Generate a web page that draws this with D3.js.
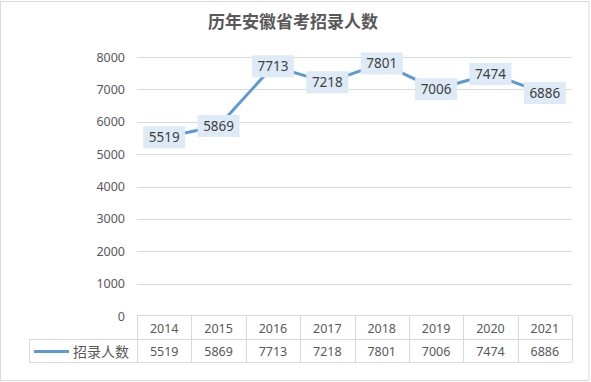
<!DOCTYPE html>
<html>
<head>
<meta charset="utf-8">
<script src="https://cdn.jsdelivr.net/npm/d3@7"></script>
<style>
  body { margin: 0; background: #fff; }
  svg { display: block; font-family: "Noto Sans", "Noto Sans CJK SC", sans-serif; }
</style>
</head>
<body>
<svg width="591" height="382"></svg>
<script>
const years = ['2014','2015','2016','2017','2018','2019','2020','2021']
const values = [5519, 5869, 7713, 7218, 7801, 7006, 7474, 6886]
const yTicks = [0, 1000, 2000, 3000, 4000, 5000, 6000, 7000, 8000]
const seriesName = '招录人数'
const title = '历年安徽省考招录人数'

const svg = d3.select('svg'),
    margin = {top: 57, right: 19, bottom: 66, left: 137},
    width = 591 - margin.left - margin.right,
    height = 382 - margin.top - margin.bottom,
    x = d3.scaleBand().domain(years).range([0, width]),
    y = d3.scaleLinear().domain([0, 8000]).range([height, 0])

// outer frame
svg.append('rect')
    .attr('x', 0.5).attr('y', 1.5)
    .attr('width', 588.5).attr('height', 379)
    .attr('fill', '#fff').attr('stroke', '#d9d9d9')

svg.append('text')
    .attr('x', 293).attr('y', 28)
    .attr('text-anchor', 'middle')
    .attr('font-family', '"Noto Sans CJK SC", sans-serif')
    .attr('font-size', 17)
    .attr('font-weight', 'bold')
    .attr('fill', '#595959')
    .text(title)

const chart = svg.append('g')
    .attr('transform', 'translate(' + margin.left + ',' + margin.top + ')')

// gridlines
chart.append('g')
    .selectAll('line')
    .data(yTicks.filter(d => d > 0))
    .enter().append('line')
    .attr('x1', 0).attr('x2', width)
    .attr('y1', d => Math.round(y(d)) + 0.5).attr('y2', d => Math.round(y(d)) + 0.5)
    .attr('stroke', '#d9d9d9')

const yAxis = chart.append('g')
    .attr('transform', 'translate(-12,0)')
    .call(d3.axisLeft(y).tickValues(yTicks).tickFormat(d3.format('d')).tickSize(0).tickPadding(0))
yAxis.select('.domain').remove()
yAxis.selectAll('text')
    .attr('font-size', 12.5)
    .attr('fill', '#595959')
    .attr('font-family', '"Noto Sans", sans-serif')

// line
const line = d3.line()
    .x((d, i) => x(years[i]) + x.bandwidth() / 2)
    .y(d => y(d))

chart.append('path')
    .datum(values)
    .attr('d', line)
    .attr('fill', 'none')
    .attr('stroke', '#5b9bd5')
    .attr('stroke-width', 3)
    .attr('stroke-linejoin', 'round')

// data labels
const labels = chart.append('g')
    .selectAll('g')
    .data(values)
    .enter().append('g')
    .attr('transform', (d, i) => 'translate(' + (x(years[i]) + x.bandwidth() / 2) + ',' + y(d) + ')')
labels.append('rect')
    .attr('x', -21).attr('y', -11)
    .attr('width', 42).attr('height', 22)
    .attr('fill', '#deebf7')
labels.append('text')
    .attr('text-anchor', 'middle')
    .attr('dy', '0.36em')
    .attr('font-size', 13.5)
    .attr('fill', '#404040')
    .text(d => d)

// data table
const rowH = 23, tableTop = height, legendLeft = 29 - margin.left
const tbl = chart.append('g').attr('stroke', '#d9d9d9').attr('fill', 'none')
tbl.append('line').attr('x1', 0).attr('x2', width).attr('y1', tableTop - 0.5).attr('y2', tableTop - 0.5)
tbl.append('line').attr('x1', legendLeft).attr('x2', width).attr('y1', tableTop + rowH + 0.5).attr('y2', tableTop + rowH + 0.5)
tbl.append('line').attr('x1', legendLeft).attr('x2', width).attr('y1', tableTop + rowH * 2 + 0.5).attr('y2', tableTop + rowH * 2 + 0.5)
tbl.append('line').attr('x1', legendLeft + 0.5).attr('x2', legendLeft + 0.5).attr('y1', tableTop + rowH).attr('y2', tableTop + rowH * 2)
tbl.selectAll('.col')
    .data(years.concat(['end']))
    .enter().append('line')
    .attr('x1', (d, i) => Math.round(i * x.step()) + 0.5)
    .attr('x2', (d, i) => Math.round(i * x.step()) + 0.5)
    .attr('y1', tableTop).attr('y2', tableTop + rowH * 2)

chart.append('g')
    .selectAll('text')
    .data(years)
    .enter().append('text')
    .attr('x', d => x(d) + x.bandwidth() / 2)
    .attr('y', tableTop + rowH / 2 + 1)
    .attr('dy', '0.36em')
    .attr('text-anchor', 'middle')
    .attr('font-size', 12.5)
    .attr('fill', '#595959')
    .text(d => d)

chart.append('g')
    .selectAll('text')
    .data(values)
    .enter().append('text')
    .attr('x', (d, i) => x(years[i]) + x.bandwidth() / 2)
    .attr('y', tableTop + rowH * 1.5 + 1)
    .attr('dy', '0.36em')
    .attr('text-anchor', 'middle')
    .attr('font-size', 12.5)
    .attr('fill', '#595959')
    .text(d => d)

// legend key in table
chart.append('line')
    .attr('x1', 34 - margin.left).attr('x2', 69 - margin.left)
    .attr('y1', tableTop + rowH * 1.5 + 1).attr('y2', tableTop + rowH * 1.5 + 1)
    .attr('stroke', '#5b9bd5').attr('stroke-width', 3)
chart.append('text')
    .attr('x', 73 - margin.left)
    .attr('y', tableTop + rowH * 1.5 + 1)
    .attr('dy', '0.36em')
    .attr('font-family', '"Noto Sans CJK SC", sans-serif')
    .attr('font-size', 14)
    .attr('fill', '#595959')
    .text(seriesName)
</script>
</body>
</html>
